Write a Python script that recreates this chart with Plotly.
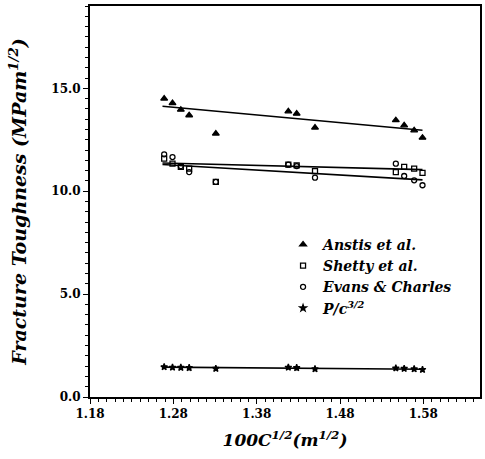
import plotly.graph_objects as go

# x positions: 100*C^(1/2) (m^1/2)
x_pts = [1.269, 1.279, 1.289, 1.299, 1.331, 1.418, 1.428, 1.450, 1.547, 1.557, 1.569, 1.579]

anstis_y = [14.50, 14.28, 13.96, 13.69, 12.80, 13.88, 13.77, 13.09, 13.45, 13.20, 12.96, 12.60]
shetty_y = [11.58, 11.34, 11.18, 11.10, 10.45, 11.29, 11.26, 10.98, 10.93, 11.18, 11.10, 10.89]
evans_y = [11.79, 11.66, 11.22, 10.93, 10.45, 11.29, 11.22, 10.66, 11.34, 10.74, 10.53, 10.29]
pc_y = [1.46, 1.44, 1.43, 1.42, 1.38, 1.44, 1.42, 1.36, 1.40, 1.38, 1.36, 1.33]

# fitted line end points
fit_x = [1.267, 1.579]
anstis_fit = [14.13, 12.96]
shetty_fit = [11.37, 11.05]
evans_fit = [11.30, 10.55]
pc_fit = [1.45, 1.35]

names = ["Anstis et al.", "Shetty et al.", "Evans & Charles", "P/c<sup>3/2</sup>"]

FONT = "DejaVu Serif"
fig = go.Figure()

series = [
    (anstis_y, anstis_fit, "triangle-up", 6),
    (shetty_y, shetty_fit, "square-open", 5),
    (evans_y, evans_fit, "circle-open", 5),
    (pc_y, pc_fit, "star", 5),
]
for (ys, fit, sym, sz), nm in zip(series, names):
    fig.add_trace(go.Scatter(x=fit_x, y=fit, mode="lines",
                             line=dict(color="black", width=1.6),
                             showlegend=False, hoverinfo="skip"))
    fig.add_trace(go.Scatter(x=x_pts, y=ys, mode="markers", name=nm,
                             marker=dict(symbol=sym, size=sz, color="black",
                                         line=dict(color="black", width=1.3))))

fig.update_layout(
    width=485, height=459,
    margin=dict(l=90, r=3, t=6, b=62),
    paper_bgcolor="white", plot_bgcolor="white",
    font=dict(family=FONT, color="black"),
    legend=dict(x=0.495, y=0.43, xanchor="left", yanchor="top",
                bgcolor="rgba(0,0,0,0)", itemwidth=30, tracegroupgap=0,
                font=dict(family=FONT, size=14, style="italic", weight="bold")),
)
fig.update_xaxes(
    range=[1.18, 1.648], tick0=1.18, dtick=0.1, tickformat=".2f",
    ticks="outside", ticklen=5, tickwidth=1.2, tickcolor="black",
    minor=dict(dtick=0.01, ticks="outside", ticklen=3, tickcolor="black", tickwidth=1),
    showgrid=False, zeroline=False,
    showline=True, linecolor="black", linewidth=2, mirror=True,
    tickfont=dict(family=FONT, size=12, weight="bold"),
    title=dict(text="100C<sup>1/2</sup>(m<sup>1/2</sup>)", standoff=14,
               font=dict(family=FONT, size=17, style="italic", weight="bold")),
)
fig.update_yaxes(
    range=[0, 19], tick0=0, dtick=5, tickformat=".1f",
    ticks="outside", ticklen=5, tickwidth=1.2, tickcolor="black",
    minor=dict(dtick=0.5, ticks="outside", ticklen=3, tickcolor="black", tickwidth=1),
    showgrid=False, zeroline=False,
    showline=True, linecolor="black", linewidth=2, mirror=True,
    tickfont=dict(family=FONT, size=12, weight="bold"),
    title=dict(text="Fracture Toughness (MPam<sup>1/2</sup>)", standoff=20,
               font=dict(family=FONT, size=19, style="italic", weight="bold")),
)

fig.write_html("out.html", config={"displayModeBar": False},
               post_script="document.body.style.margin='0px';")
